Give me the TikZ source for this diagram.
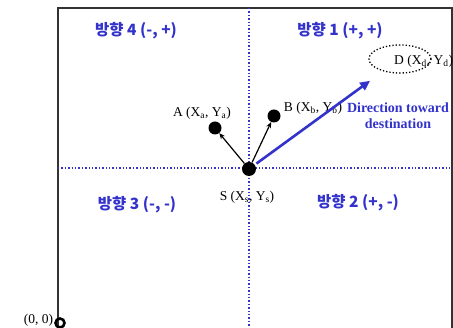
\documentclass[tikz,border=0pt]{standalone}
\usepackage{fontspec}
\setmainfont{Liberation Serif}
\newfontfamily\kor{Noto Sans CJK KR}
\usetikzlibrary{arrows.meta,shapes.geometric}
\definecolor{dirblue}{RGB}{51,51,204}

\begin{document}
\begin{tikzpicture}[x=1pt,y=-1pt,
  dot/.style={circle,fill=black,inner sep=0pt,minimum size=#1},
  lbl/.style={font=\fontsize{13.5}{15}\selectfont,inner sep=1pt},
  quad/.style={text=dirblue,font=\kor\bfseries\fontsize{15.5}{17}\selectfont},
  axisline/.style={dirblue,dotted,line width=1.4pt}]

  \useasboundingbox (0,0) rectangle (453,328);

  \draw[black!80,line width=1.3pt] (58,335) -- (58,8) -- (452,8) -- (452,335);
  \draw[axisline] (249,8) -- (249,335);
  \draw[axisline] (58,168) -- (452,168);

  \node[quad] (q4) at (136,31) {방향 4 (-, +)};
  \node[quad] (q1) at (340,31) {방향 1 (+, +)};
  \node[quad] (q3) at (137,205) {방향 3 (-, -)};
  \node[quad] (q2) at (358,203) {방향 2 (+, -)};

  \node[dot=14pt] (s) at (249,169) {};
  \node[dot=13pt] (a) at (215,128) {};
  \node[dot=13pt] (b) at (274,116) {};
  \node[ellipse,draw,dotted,line width=1.3pt,minimum width=62pt,minimum height=28pt] (d) at (400,59) {};

  \node[lbl] (slbl) at (247,197) {S (X\textsubscript{s}, Y\textsubscript{s})};
  \node[lbl] (albl) at (202,113) {A (X\textsubscript{a}, Y\textsubscript{a})};
  \node[lbl] (blbl) at (313,108) {B (X\textsubscript{b}, Y\textsubscript{b})};
  \node[lbl,anchor=west] (dlbl) at (393,61) {D (X\textsubscript{d}, Y\textsubscript{d})};
  \node[lbl,text=dirblue,font=\bfseries\fontsize{14}{16}\selectfont,align=center] (dir) at (398,116) {Direction toward\\destination};

  \draw[-{Stealth[length=6pt,width=5pt]},line width=1.2pt] (s) -- (a);
  \draw[-{Stealth[length=6pt,width=5pt]},line width=1.2pt] (s) -- (b);
  \draw[-{Triangle[length=10pt,width=9pt]},dirblue,line width=2.6pt,shorten <=2pt,shorten >=16pt] (s) -- (d);

  \node[circle,draw,line width=2.6pt,inner sep=0pt,minimum size=9pt] (o) at (60,323) {};
  \node[lbl,anchor=east] (olbl) at ([yshift=3pt]o.west) {(0, 0)};
\end{tikzpicture}
\end{document}
